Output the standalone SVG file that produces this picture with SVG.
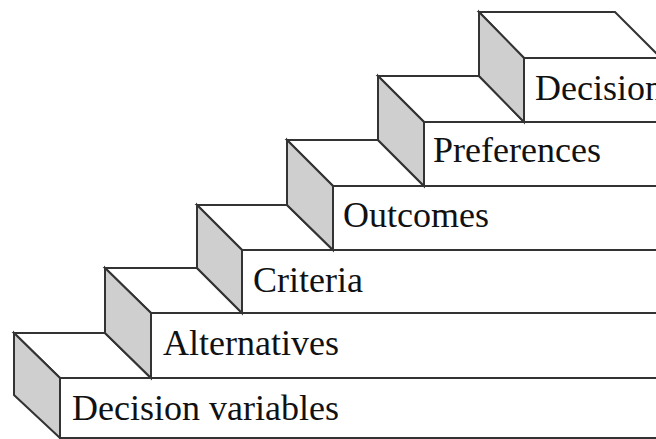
<svg xmlns="http://www.w3.org/2000/svg" width="656" height="439" viewBox="0 0 656 439">
<style>
.top{fill:#ffffff;stroke:#333;stroke-width:2;stroke-linejoin:miter}
.side{fill:#cfcfcf;stroke:#333;stroke-width:2}
.front{fill:#ffffff;stroke:#333;stroke-width:2}
.lbl{font-family:"Liberation Serif","Times New Roman",serif;font-size:36px;fill:#111}
</style>
<rect width="656" height="439" fill="#ffffff"/>
<g id="step1">
<rect class="front" x="60" y="378" width="640" height="60"/>
<polygon class="top" points="14,333 105,333 151,378 60,378"/>
<polygon class="side" points="14,333 60,378 60,438 14,395"/>
<text class="lbl" x="72" y="420">Decision variables</text>
</g>
<g id="step2">
<rect class="front" x="151" y="313" width="600" height="65"/>
<polygon class="top" points="105,268 197,268 242,313 151,313"/>
<polygon class="side" points="105,268 151,313 151,378 105,333"/>
<text class="lbl" x="163" y="355">Alternatives</text>
</g>
<g id="step3">
<rect class="front" x="242" y="250" width="500" height="63"/>
<polygon class="top" points="197,205 287,205 333,250 242,250"/>
<polygon class="side" points="197,205 242,250 242,313 197,268"/>
<text class="lbl" x="253" y="292">Criteria</text>
</g>
<g id="step4">
<rect class="front" x="333" y="186" width="400" height="64"/>
<polygon class="top" points="287,140 378,140 424,186 333,186"/>
<polygon class="side" points="287,140 333,186 333,250 287,205"/>
<text class="lbl" x="343" y="227">Outcomes</text>
</g>
<g id="step5">
<rect class="front" x="424" y="122" width="300" height="64"/>
<polygon class="top" points="378,76 479,76 524,122 424,122"/>
<polygon class="side" points="378,76 424,122 424,186 378,140"/>
<text class="lbl" x="433" y="162">Preferences</text>
</g>
<g id="step6">
<rect class="front" x="524" y="58" width="200" height="64"/>
<polygon class="top" points="479,12 615,12 661,58 524,58"/>
<polygon class="side" points="479,12 524,58 524,122 479,76"/>
<text class="lbl" x="535" y="100">Decision</text>
</g>
</svg>
